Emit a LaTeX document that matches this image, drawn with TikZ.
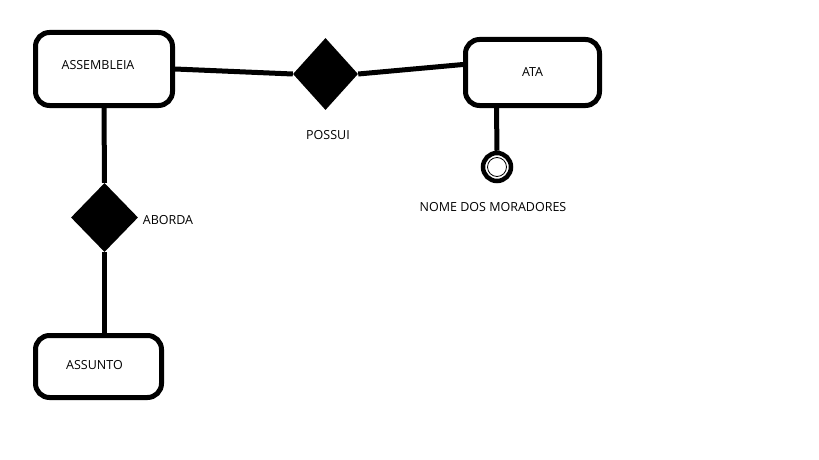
\documentclass[tikz,border=0pt]{standalone}
\usepackage{fontspec}
\setmainfont{Open Sans}
\usetikzlibrary{shapes.geometric,calc}
\tikzset{
  entity/.style={draw=black, line width=5pt, rounded corners=14pt, rectangle, inner sep=0pt},
  rel/.style={diamond, fill=black, inner sep=0pt},
  conn/.style={line width=5pt, draw=black},
  lbl/.style={font=\fontsize{12.5}{14}\selectfont, text=black, inner sep=0pt},
}
\begin{document}
\begin{tikzpicture}[x=1pt,y=-1pt]
\useasboundingbox[fill=white] (0,0) rectangle (819,460);
\node[entity, minimum width=137pt, minimum height=73pt,
  label={[lbl, xshift=-6pt, yshift=4pt]center:ASSEMBLEIA}] (asm) at (104,69) {};
\node[entity, minimum width=134pt, minimum height=66pt,
  label={[lbl]center:ATA}] (ata) at (532.5,72.5) {};
\node[entity, minimum width=126pt, minimum height=62pt,
  label={[lbl, xshift=-4pt, yshift=1pt]center:ASSUNTO}] (assunto) at (98.5,366.5) {};
\node[rel, minimum width=65pt, minimum height=72pt] (possui) at (325.5,74) {};
\node[rel, minimum width=67pt, minimum height=69pt] (aborda) at (104.5,217.5) {};
\node[circle, draw=black, line width=4.5pt, minimum size=28pt, inner sep=0pt] (attr) at (497,167) {};
\node[circle, draw=black, line width=0.8pt, minimum size=19pt, inner sep=0pt] (attrin) at (497,167) {};
\node[lbl] (lpossui) at (328,135) {POSSUI};
\node[lbl] (laborda) at (168,220) {ABORDA};
\node[lbl] (lnome) at (493,207) {NOME DOS MORADORES};
\draw[conn] (asm.east) -- (possui.west);
\draw[conn] (possui.east) -- ([yshift=8pt]ata.west);
\draw[conn] ([xshift=-36pt]ata.south) -- (attr.north);
\draw[conn] (asm.south) -- (aborda.north);
\draw[conn] (aborda.south) -- (aborda.south |- assunto.north);
\end{tikzpicture}
\end{document}
